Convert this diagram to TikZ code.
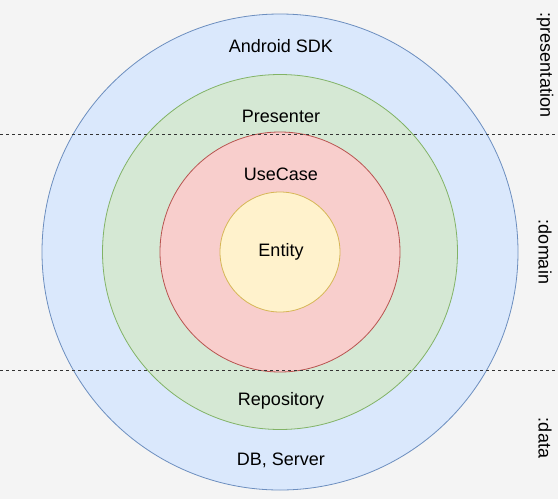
\documentclass[tikz,border=0pt]{standalone}
\usepackage{fontspec}
\setmainfont{Liberation Sans}
\usepackage{xcolor}
\usetikzlibrary{positioning, calc}

\definecolor{bgcol}{HTML}{F4F4F4}
\definecolor{sdkfill}{HTML}{DAE8FC}
\definecolor{sdkdraw}{HTML}{6C8EBF}
\definecolor{presfill}{HTML}{D5E8D4}
\definecolor{presdraw}{HTML}{82B366}
\definecolor{casefill}{HTML}{F8CECC}
\definecolor{casedraw}{HTML}{B85450}
\definecolor{entfill}{HTML}{FFF2CC}
\definecolor{entdraw}{HTML}{D6B656}

\begin{document}
\begin{tikzpicture}[
  x=1pt, y=-1pt,
  ring/.style={circle, draw, line width=0.8pt, inner sep=0pt},
  layer/.style={font=\fontsize{18}{21}\selectfont, inner sep=1pt},
  side/.style={font=\fontsize{18}{21}\selectfont, rotate=-90, inner sep=1pt},
  split/.style={dashed, line width=0.7pt, black!80},
]
  % background and page size
  \fill[bgcol] (0,0) rectangle (558,499);
  \useasboundingbox (0,0) rectangle (558,499);

  % layers, outer to inner
  \node (sdk)  [ring, fill=sdkfill,  draw=sdkdraw,  minimum size=476pt] at (280,252) {};
  \node (pres) [ring, fill=presfill, draw=presdraw, minimum size=355pt] at (280,252) {};
  \node (case) [ring, fill=casefill, draw=casedraw, minimum size=240pt] at (280,252) {};
  \node (ent)  [ring, fill=entfill,  draw=entdraw,  minimum size=120pt] at (280,252) {};

  \node (l-sdk)  [layer] at (281,46)  {Android SDK};
  \node (l-pres) [layer] at (281,116) {Presenter};
  \node (l-case) [layer] at (281,174) {UseCase};
  \node (l-ent)  [layer] at (281,252) {Entity};
  \node (l-repo) [layer] at (281,401) {Repository};
  \node (l-db)   [layer] at (281,460) {DB, Server};

  % module borders
  \coordinate (t-l) at (0,134);
  \coordinate (t-r) at (558,134);
  \coordinate (b-l) at (0,370);
  \coordinate (b-r) at (558,370);
  \draw[split] (t-l) -- (t-r);
  \draw[split] (b-l) -- (b-r);

  \node (m-pres) [side] at (545,65)  {:presentation};
  \node (m-dom)  [side] at (545,252) {:domain};
  \node (m-data) [side] at (545,438) {:data};
\end{tikzpicture}
\end{document}
